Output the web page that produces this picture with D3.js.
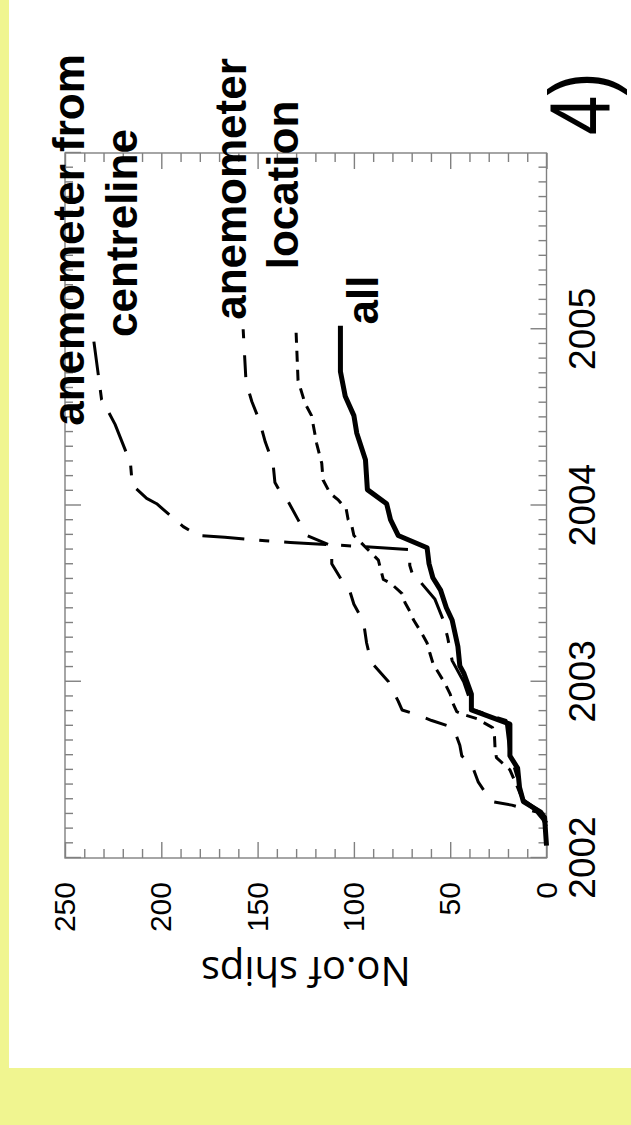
<!DOCTYPE html>
<html>
<head>
<meta charset="utf-8">
<script src="https://cdn.jsdelivr.net/npm/d3@7/dist/d3.min.js"></script>
<style>
  html, body { margin: 0; padding: 0; background: #fff; }
  svg { display: block; }
</style>
</head>
<body>
<div id="chart"></div>
<script>
// ---- data (decimal year, cumulative no. of ships) ----
const years = [2002, 2003, 2004, 2005];
const shipTicks = [0, 50, 100, 150, 200, 250];

const allShips = [
    [2002.07, 0], [2002.23, 1], [2002.26, 3], [2002.32, 12], [2002.40, 14], [2002.51, 15],
    [2002.58, 19], [2002.76, 19], [2002.84, 39], [2002.93, 39], [2003.05, 43], [2003.09, 45],
    [2003.20, 46], [2003.35, 49], [2003.42, 52], [2003.52, 55], [2003.59, 59], [2003.67, 61],
    [2003.76, 62], [2003.83, 77], [2003.92, 81], [2004.01, 83], [2004.09, 93], [2004.26, 94],
    [2004.41, 98.5], [2004.51, 100], [2004.62, 104.5], [2004.76, 107], [2005.02, 107]
];

const locationShips = [
    [2002.20, 0], [2002.25, 3], [2002.32, 12], [2002.40, 15], [2002.50, 19], [2002.57, 26],
    [2002.62, 26.7], [2002.69, 27], [2002.74, 28], [2002.77, 33], [2002.79, 36], [2002.81, 42],
    [2002.83, 46.6], [2002.88, 48.7], [2002.93, 50], [2002.99, 52.7], [2003.05, 56], [2003.10, 58.8],
    [2003.16, 60.5], [2003.22, 62], [2003.28, 65], [2003.35, 69], [2003.40, 71], [2003.45, 73.5],
    [2003.50, 75], [2003.56, 81], [2003.58, 84.7], [2003.65, 86.4], [2003.69, 87.3], [2003.83, 100],
    [2003.88, 101], [2003.92, 103], [2003.98, 104], [2004.03, 108], [2004.07, 112.4], [2004.145, 116],
    [2004.24, 116.7], [2004.35, 119.3], [2004.51, 122], [2004.58, 125.4], [2004.71, 129], [2004.98, 130]
];

const anemometerShips = [
    [2002.18, 0], [2002.22, 2], [2002.26, 5], [2002.30, 18], [2002.32, 28.5], [2002.43, 35.4],
    [2002.53, 38.8], [2002.58, 44], [2002.64, 45], [2002.74, 48.4], [2002.78, 59.6], [2002.82, 69],
    [2002.84, 75], [2002.89, 77], [2003.00, 82], [2003.11, 91], [2003.22, 93.4], [2003.34, 95],
    [2003.44, 100], [2003.51, 102], [2003.57, 106], [2003.67, 111.5], [2003.77, 111.5], [2003.83, 124.5],
    [2003.92, 129], [2004.04, 135], [2004.08, 138.4], [2004.13, 141], [2004.24, 142], [2004.36, 146],
    [2004.48, 149], [2004.59, 153], [2004.70, 156], [2005.00, 157.5]
];

const centrelineShips = [
    [2002.20, 0], [2002.27, 4], [2002.33, 12], [2002.45, 15], [2002.60, 19], [2002.78, 21],
    [2002.84, 38], [2003.00, 43], [2003.12, 49], [2003.25, 51.3], [2003.35, 53.6], [2003.47, 58],
    [2003.56, 65], [2003.59, 69], [2003.66, 71], [2003.75, 71], [2003.77, 100], [2003.79, 133],
    [2003.80, 146], [2003.82, 167], [2003.83, 181], [2003.88, 188.6], [2003.93, 194], [2004.01, 202.4],
    [2004.04, 207.6], [2004.11, 214.5], [2004.16, 215.4], [2004.24, 216], [2004.46, 224], [2004.55, 228.3],
    [2004.60, 231], [2004.70, 232.2], [2004.93, 235]
];

// ---- page ----
const width = 631, height = 1125;
const yellow = '#f0f590', axisGrey = '#808080';

const svg = d3.select('#chart').append('svg')
    .attr('width', width).attr('height', height);

svg.append('rect').attr('width', width).attr('height', height).style('fill', yellow);
svg.append('rect').attr('x', 9).attr('y', 0).attr('width', width - 9).attr('height', 1068)
    .style('fill', '#fff');

// the figure is laid out upright in a 1125 x 631 frame and then turned a quarter left
const g = svg.append('g').attr('transform', `translate(0, ${height}) rotate(-90)`);

const x = d3.scaleLinear().domain([2002, 2006]).range([267, 972]);
const y = d3.scaleLinear().domain([0, 250]).range([546.5, 65]);

const months = d3.range(2002, 2006.001, 1 / 12).filter(d => Math.abs(d - Math.round(d)) > 1e-6);
const tens = d3.range(0, 251, 10).filter(d => d % 50 !== 0);

function styleAxis(sel) {
    sel.select('.domain').remove();
    sel.selectAll('.tick line').style('stroke', axisGrey).style('stroke-width', 1.4);
    sel.selectAll('text').style('fill', '#000');
}

// time axis (bottom = right edge on the page)
g.append('g').attr('transform', `translate(0, ${y(0)})`)
    .call(d3.axisBottom(x).tickValues(years).tickSize(-16).tickPadding(22).tickFormat(d3.format('d')))
    .call(styleAxis)
    .call(s => s.selectAll('text').style('font-family', '"Liberation Sans", Arial, sans-serif').style('font-size', '37px'));
g.append('g').attr('transform', `translate(0, ${y(0)})`)
    .call(d3.axisBottom(x).tickValues(months).tickSize(-8).tickFormat(''))
    .call(styleAxis);
g.append('g').attr('transform', `translate(0, ${y(250)})`)
    .call(d3.axisTop(x).tickValues(years.concat([2006])).tickSize(-16).tickFormat(''))
    .call(styleAxis);
g.append('g').attr('transform', `translate(0, ${y(250)})`)
    .call(d3.axisTop(x).tickValues(months).tickSize(-8).tickFormat(''))
    .call(styleAxis);

// ships axis (left = bottom edge on the page)
g.append('g').attr('transform', `translate(${x(2002)}, 0)`)
    .call(d3.axisLeft(y).tickValues(shipTicks).tickSize(-16).tickPadding(24))
    .call(styleAxis)
    .call(s => s.selectAll('text').style('font-family', '"Liberation Sans", Arial, sans-serif').style('font-size', '30px'));
g.append('g').attr('transform', `translate(${x(2002)}, 0)`)
    .call(d3.axisLeft(y).tickValues(tens).tickSize(-9).tickFormat(''))
    .call(styleAxis);
g.append('g').attr('transform', `translate(${x(2006)}, 0)`)
    .call(d3.axisRight(y).tickValues(shipTicks).tickSize(-16).tickFormat(''))
    .call(styleAxis);
g.append('g').attr('transform', `translate(${x(2006)}, 0)`)
    .call(d3.axisRight(y).tickValues(tens).tickSize(-9).tickFormat(''))
    .call(styleAxis);

// frame
g.append('rect')
    .attr('x', x(2002)).attr('y', y(250))
    .attr('width', x(2006) - x(2002)).attr('height', y(0) - y(250))
    .style('fill', 'none').style('stroke', axisGrey).style('stroke-width', 1.4);

// curves
const line = d3.line().x(d => x(d[0])).y(d => y(d[1]));
const series = [
    {data: centrelineShips, w: 3, dash: '42,15,10,15'},
    {data: anemometerShips, w: 3, dash: '22,17'},
    {data: locationShips, w: 3, dash: '11,8'},
    {data: allShips, w: 5, dash: null}
];
g.selectAll('path.series').data(series).enter().append('path')
    .attr('class', 'series')
    .attr('d', d => line(d.data))
    .style('fill', 'none').style('stroke', '#000')
    .style('stroke-width', d => d.w)
    .style('stroke-linejoin', 'round')
    .style('stroke-dasharray', d => d.dash);

// curve labels
const labels = [
    {text: 'anemometer from', u: 885, v: 84},
    {text: 'centreline', u: 892, v: 137},
    {text: 'anemometer', u: 936, v: 246},
    {text: 'location', u: 940, v: 298},
    {text: 'all', u: 825, v: 378}
];
g.selectAll('text.lbl').data(labels).enter().append('text')
    .attr('class', 'lbl')
    .attr('x', d => d.u).attr('y', d => d.v)
    .attr('text-anchor', 'middle')
    .style('font-family', '"Liberation Sans", Arial, sans-serif')
    .style('font-weight', 'bold').style('font-size', '44px')
    .text(d => d.text);

// axis title
g.append('text')
    .attr('transform', `translate(168, ${(y(0) + y(250)) / 2}) rotate(-90)`)
    .attr('text-anchor', 'middle')
    .style('font-family', '"Open Sans", sans-serif').style('font-size', '40px')
    .text('No.of ships');

// panel number
g.append('text')
    .attr('transform', 'translate(990, 609) scale(0.82, 1)')
    .style('font-family', '"Liberation Sans", Arial, sans-serif').style('font-size', '86px')
    .text('4)');
</script>
</body>
</html>
